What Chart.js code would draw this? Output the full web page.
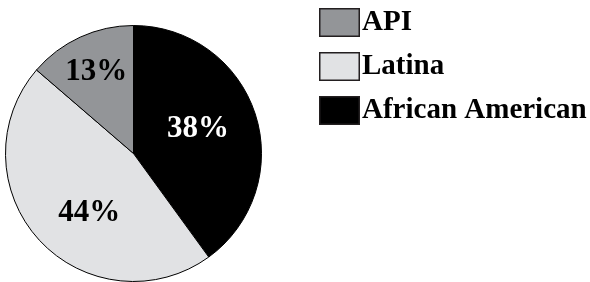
<!DOCTYPE html>
<html>
<head>
<meta charset="utf-8">
<script src="https://cdn.jsdelivr.net/npm/chart.js@4"></script>
<style>
  html, body { margin: 0; padding: 0; background: #fff; }
  #wrap { width: 590px; height: 282px; position: relative; }
</style>
</head>
<body>
<div id="wrap"><canvas id="pieChart"></canvas></div>
<script>
// slices go clockwise from 12 o'clock
var groups = ['African American', 'Latina', 'API'];
var shares = [38, 44, 13];
var sliceColors = ['#000000', '#e1e2e4', '#939598'];
var textColors = ['#ffffff', '#000000', '#000000'];
// legend lists them bottom-up
var legendOrder = [2, 1, 0];

// where each percent label sits: fraction of the slice angle, fraction of radius
var labelSpots = [[0.48, 0.54], [0.435, 0.58], [0.5, 0.70]];

const pctLabels = {
	id: 'pctLabels',
	afterDatasetsDraw(chart) {
		const ctx = chart.ctx;
		const meta = chart.getDatasetMeta(0);
		ctx.save();
		ctx.font = 'bold 31px "Liberation Serif"';
		ctx.textAlign = 'center';
		ctx.textBaseline = 'middle';
		meta.data.forEach(function(arc, i) {
			const p = arc.getProps(['x', 'y', 'startAngle', 'endAngle', 'outerRadius'], true);
			const a = p.startAngle + labelSpots[i][0] * (p.endAngle - p.startAngle);
			const r = labelSpots[i][1] * p.outerRadius;
			ctx.fillStyle = textColors[i];
			ctx.fillText(shares[i] + '%', p.x + Math.cos(a) * r, p.y + Math.sin(a) * r);
		});
		ctx.restore();
	}
};

const sideLegend = {
	id: 'sideLegend',
	afterDraw(chart) {
		const ctx = chart.ctx;
		ctx.save();
		ctx.font = 'bold 29px "Liberation Serif"';
		ctx.textAlign = 'left';
		ctx.textBaseline = 'alphabetic';
		legendOrder.forEach(function(idx, row) {
			const top = 8 + row * 44;
			ctx.fillStyle = sliceColors[idx];
			ctx.fillRect(319, top, 41, 29);
			ctx.lineWidth = 1.5;
			ctx.strokeStyle = '#231f20';
			ctx.strokeRect(319.75, top + 0.75, 39.5, 27.5);
			ctx.fillStyle = '#000000';
			ctx.fillText(chart.data.labels[idx], 362, top + 22);
		});
		ctx.restore();
	}
};

const ctx = document.getElementById('pieChart').getContext('2d');
const myChart = new Chart(ctx, {
	type: 'pie',
	data: {
		labels: groups,
		datasets: [{
			data: shares,
			backgroundColor: sliceColors,
			borderColor: '#000000',
			borderWidth: 1
		}]
	},
	options: {
		responsive: true,
		maintainAspectRatio: false,
		animation: false,
		layout: {
			padding: { left: 5, right: 328, top: 25, bottom: 0 }
		},
		plugins: {
			legend: { display: false },
			tooltip: { enabled: false }
		}
	},
	plugins: [pctLabels, sideLegend]
});
</script>
</body>
</html>
